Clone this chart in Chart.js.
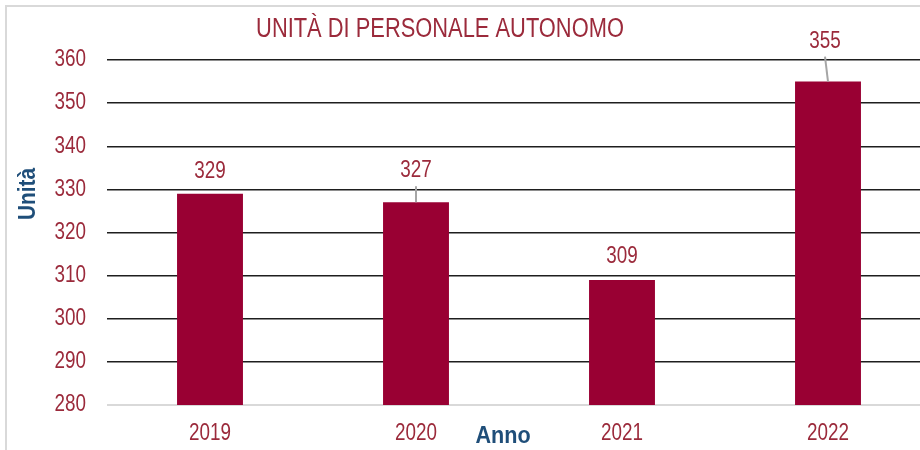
<!DOCTYPE html>
<html lang="it">
<head>
  <meta charset="UTF-8">
  <title>Unità di personale autonomo</title>
  <script src="https://cdn.jsdelivr.net/npm/chart.js"></script>
  <style>
    html, body {
      margin: 0;
      padding: 0;
      background: #ffffff;
      overflow: hidden;
      width: 920px;
      height: 450px;
    }
    .frame {
      position: absolute;
      left: 5px;
      top: 5px;
      width: 960px;
      height: 480px;
      border: 2px solid #d9d9d9;
    }
    .chart-box {
      position: absolute;
      left: 0;
      top: 0;
      width: 935px;
      height: 450px;
    }
  </style>
</head>
<body>

  <div class="frame"></div>
  <div class="chart-box">
    <canvas id="chartUnita" width="935" height="450"></canvas>
  </div>

<script>
  // dati
  const anni = ['2019', '2020', '2021', '2022'];
  const unita = [329, 327, 309, 355];
  const yTicks = [280, 290, 300, 310, 320, 330, 340, 350, 360];

  // distanza etichetta / barra (px) e spostamento orizzontale
  const labelOffsets = [16, 25, 17, 34];
  const labelShiftX = [0, 0, 0, -3];

  const FONT = '"Liberation Sans", Arial, sans-serif';
  const NARROW = 0.82; // il font originale è un Arial Narrow
  const RED_TEXT = '#9b2a3b';
  const BAR = '#990033';
  const BLUE = '#1f4e79';

  // testo "stretto": scala orizzontale attorno al punto di ancoraggio
  function narrowText(ctx, text, x, y, sx) {
    ctx.save();
    ctx.translate(x, y);
    ctx.scale(sx, 1);
    ctx.fillText(text, 0, 0);
    ctx.restore();
  }

  const decorPlugin = {
    id: 'decor',
    afterDatasetsDraw(chart) {
      const ctx = chart.ctx;
      const meta = chart.getDatasetMeta(0);
      const xs = chart.scales.x;
      const ys = chart.scales.y;
      ctx.save();

      ctx.font = '23px ' + FONT;
      ctx.fillStyle = RED_TEXT;

      // etichette asse y
      ctx.textAlign = 'right';
      ctx.textBaseline = 'middle';
      yTicks.forEach(v => {
        narrowText(ctx, String(v), 86, ys.getPixelForValue(v), NARROW);
      });

      // etichette asse x
      ctx.textAlign = 'center';
      anni.forEach((a, i) => {
        narrowText(ctx, a, xs.getPixelForTick(i), 434, NARROW);
      });

      // etichette dati con linee guida
      ctx.textBaseline = 'alphabetic';
      meta.data.forEach((bar, i) => {
        const off = labelOffsets[i];
        const lx = bar.x + labelShiftX[i];
        const ly = bar.y - off;
        narrowText(ctx, String(unita[i]), lx, ly, NARROW);
        if (off > 20) {
          ctx.strokeStyle = '#a6a6a6';
          ctx.lineWidth = 2;
          ctx.beginPath();
          ctx.moveTo(lx, ly + 9);
          ctx.lineTo(bar.x, bar.y);
          ctx.stroke();
        }
      });

      // titolo
      ctx.font = '27px ' + FONT;
      narrowText(ctx, 'UNITÀ DI PERSONALE AUTONOMO', 440, 37, 0.81);

      // titoli assi
      ctx.font = 'bold 24px ' + FONT;
      ctx.fillStyle = BLUE;
      ctx.textBaseline = 'middle';
      narrowText(ctx, 'Anno', 503, 436, 0.9);

      ctx.translate(28, 194);
      ctx.rotate(-Math.PI / 2);
      narrowText(ctx, 'Unità', 0, 0, 0.87);

      ctx.restore();
    }
  };

  const ctx = document.getElementById('chartUnita').getContext('2d');
  new Chart(ctx, {
    type: 'bar',
    data: {
      labels: anni,
      datasets: [{
        data: unita,
        backgroundColor: BAR,
        borderWidth: 0,
        categoryPercentage: 1,
        barPercentage: 0.32
      }]
    },
    options: {
      responsive: false,
      animation: false,
      layout: {
        padding: { top: 60, right: 4, bottom: 0, left: 0 }
      },
      plugins: {
        legend: { display: false },
        tooltip: { enabled: false },
        title: { display: false }
      },
      scales: {
        x: {
          offset: true,
          grid: { display: false, drawTicks: false },
          border: { display: false },
          ticks: { display: false },
          afterFit(scale) { scale.height = 45; }
        },
        y: {
          min: 280,
          max: 360,
          afterBuildTicks(scale) {
            scale.ticks = yTicks.map(v => ({ value: v }));
          },
          grid: {
            drawTicks: false,
            color: c => c.tick.value === 280 ? '#d9d9d9' : '#1e1e1e',
            lineWidth: c => c.tick.value === 280 ? 2 : 1.5
          },
          border: { display: false },
          ticks: { display: false },
          afterFit(scale) { scale.width = 107; }
        }
      }
    },
    plugins: [decorPlugin]
  });
</script>

</body>
</html>
